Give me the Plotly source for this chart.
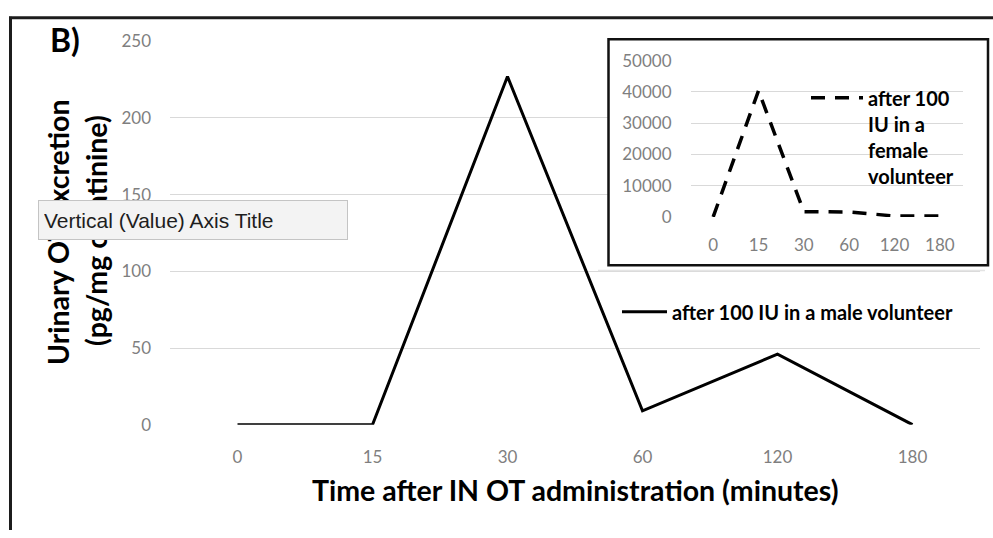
import plotly.graph_objects as go

W, H = 993, 538

# Sampling times (minutes) after intranasal oxytocin
time_labels = ["0", "15", "30", "60", "120", "180"]

# Urinary OT excretion (pg/mg creatinine)
male_values = [0, 0, 227, 9, 46, 0]
female_values = [0, 40400, 1700, 1600, 300, 300]

male_name = "after 100 IU in a male volunteer"
female_name = "after 100<br>IU in a<br>female<br>volunteer"

main_ticks = [0, 50, 100, 150, 200, 250]
inset_ticks = [0, 10000, 20000, 30000, 40000, 50000]


def px(x):
    return x / W


def py(y):
    return 1 - y / H


TICK_FONT = dict(family="Lato", size=17, color="#7f7f7f")
GRID = "#d9d9d9"

fig = go.Figure()

fig.add_trace(go.Scatter(
    x=time_labels, y=male_values, name=male_name, mode="lines",
    line=dict(color="black", width=3), xaxis="x", yaxis="y", legend="legend",
))

# blank panel that gives the inset its white backing
fig.add_trace(go.Scatter(
    x=[0], y=[0], mode="markers", marker=dict(opacity=0), showlegend=False,
    hoverinfo="skip", xaxis="x2", yaxis="y2",
))

fig.add_trace(go.Scatter(
    x=time_labels, y=female_values, name=female_name, mode="lines",
    line=dict(color="black", width=3.5, dash="14px,10px"),
    xaxis="x3", yaxis="y3", legend="legend2",
))

fig.update_layout(
    width=W, height=H, autosize=False,
    margin=dict(l=0, r=0, t=0, b=0),
    paper_bgcolor="white", plot_bgcolor="white",
    font=dict(family="Lato"),
    xaxis=dict(
        domain=[px(170), px(980)], anchor="y", type="category",
        range=[-0.5, 5.5], showgrid=False, zeroline=False, showline=False,
        tickfont=TICK_FONT, ticks="", ticklabelstandoff=20,
    ),
    yaxis=dict(
        domain=[py(430.5), py(31.5)], anchor="x", range=[0, 250],
        tickvals=main_ticks, showgrid=True, gridcolor=GRID, gridwidth=1,
        zeroline=False, showline=False, tickfont=TICK_FONT, ticks="",
        ticklabelstandoff=18,
    ),
    xaxis2=dict(
        domain=[px(608), px(988)], anchor="y2", range=[0, 1],
        visible=False,
    ),
    yaxis2=dict(
        domain=[py(264.5), py(29.5)], anchor="x2", range=[0, 1],
        visible=False,
    ),
    xaxis3=dict(
        domain=[px(690.5), px(962.5)], anchor="y3", type="category",
        range=[-0.5, 5.5], showgrid=False, zeroline=False, showline=False,
        tickfont=TICK_FONT, ticks="", ticklabelstandoff=16,
    ),
    yaxis3=dict(
        domain=[py(214.3), py(51.7)], anchor="x3", range=[0, 50000],
        tickvals=inset_ticks, tickformat="d", showgrid=True, gridcolor=GRID,
        gridwidth=1, zeroline=False, showline=False, tickfont=TICK_FONT,
        ticks="", ticklabelstandoff=18,
    ),
    legend=dict(
        x=px(617), y=py(313), xanchor="left", yanchor="middle",
        itemwidth=45,
        bgcolor="rgba(0,0,0,0)", borderwidth=0,
        font=dict(family="Lato", size=20, color="black", weight="bold"),
    ),
    legend2=dict(
        x=px(806), y=py(70), xanchor="left", yanchor="top", valign="top",
        itemwidth=52,
        bgcolor="rgba(0,0,0,0)", borderwidth=0,
        font=dict(family="Lato", size=20, color="black", weight="bold"),
    ),
    showlegend=True,
)

TITLE_FONT = dict(family="Lato", size=28.5, color="black", weight="bold")

annotations = [
    dict(text="B)", x=px(48), y=py(30), xref="paper", yref="paper",
         xanchor="left", yanchor="middle", showarrow=False,
         font=dict(family="Lato", size=32, color="black", weight="bold")),
    dict(text="Urinary OT excretion", x=px(58), y=py(230), xref="paper",
         yref="paper", xanchor="center", yanchor="middle", textangle=-90,
         showarrow=False, font=TITLE_FONT),
    dict(text="(pg/mg creatinine)", x=px(96), y=py(229), xref="paper",
         yref="paper", xanchor="center", yanchor="middle", textangle=-90,
         showarrow=False, font=TITLE_FONT),
    dict(text="Time after IN OT administration (minutes)", x=px(575),
         y=py(498), xref="paper", yref="paper", xanchor="center",
         yanchor="middle", showarrow=False, font=TITLE_FONT),
    dict(text="Vertical (Value) Axis Title", x=px(38), y=py(218),
         xref="paper", yref="paper", xanchor="left", yanchor="middle",
         showarrow=False, align="left", width=298, height=28, borderpad=5,
         bgcolor="#f3f3f3", bordercolor="#c4c4c4", borderwidth=1,
         font=dict(family="Liberation Sans", size=21, color="#1e1e1e")),
]
fig.update_layout(annotations=annotations)

shapes = [
    # outer frame
    dict(type="line", xref="paper", yref="paper", x0=px(10.5), x1=px(10.5),
         y0=py(6), y1=py(540), line=dict(color="#1c1c1c", width=3)),
    dict(type="line", xref="paper", yref="paper", x0=px(9), x1=px(995),
         y0=py(7), y1=py(7), line=dict(color="#1c1c1c", width=3)),
    # inset border
    dict(type="rect", xref="paper", yref="paper", x0=px(608.5), x1=px(988),
         y0=py(264.5), y1=py(29.5), line=dict(color="#111111", width=2.5),
         fillcolor="rgba(0,0,0,0)", layer="above"),
    dict(type="line", xref="paper", yref="paper", x0=px(598), x1=px(985),
         y0=py(270), y1=py(270), line=dict(color="#e4e4e4", width=1.5),
         layer="above"),
]
fig.update_layout(shapes=shapes)

fig.write_html("out.html")
